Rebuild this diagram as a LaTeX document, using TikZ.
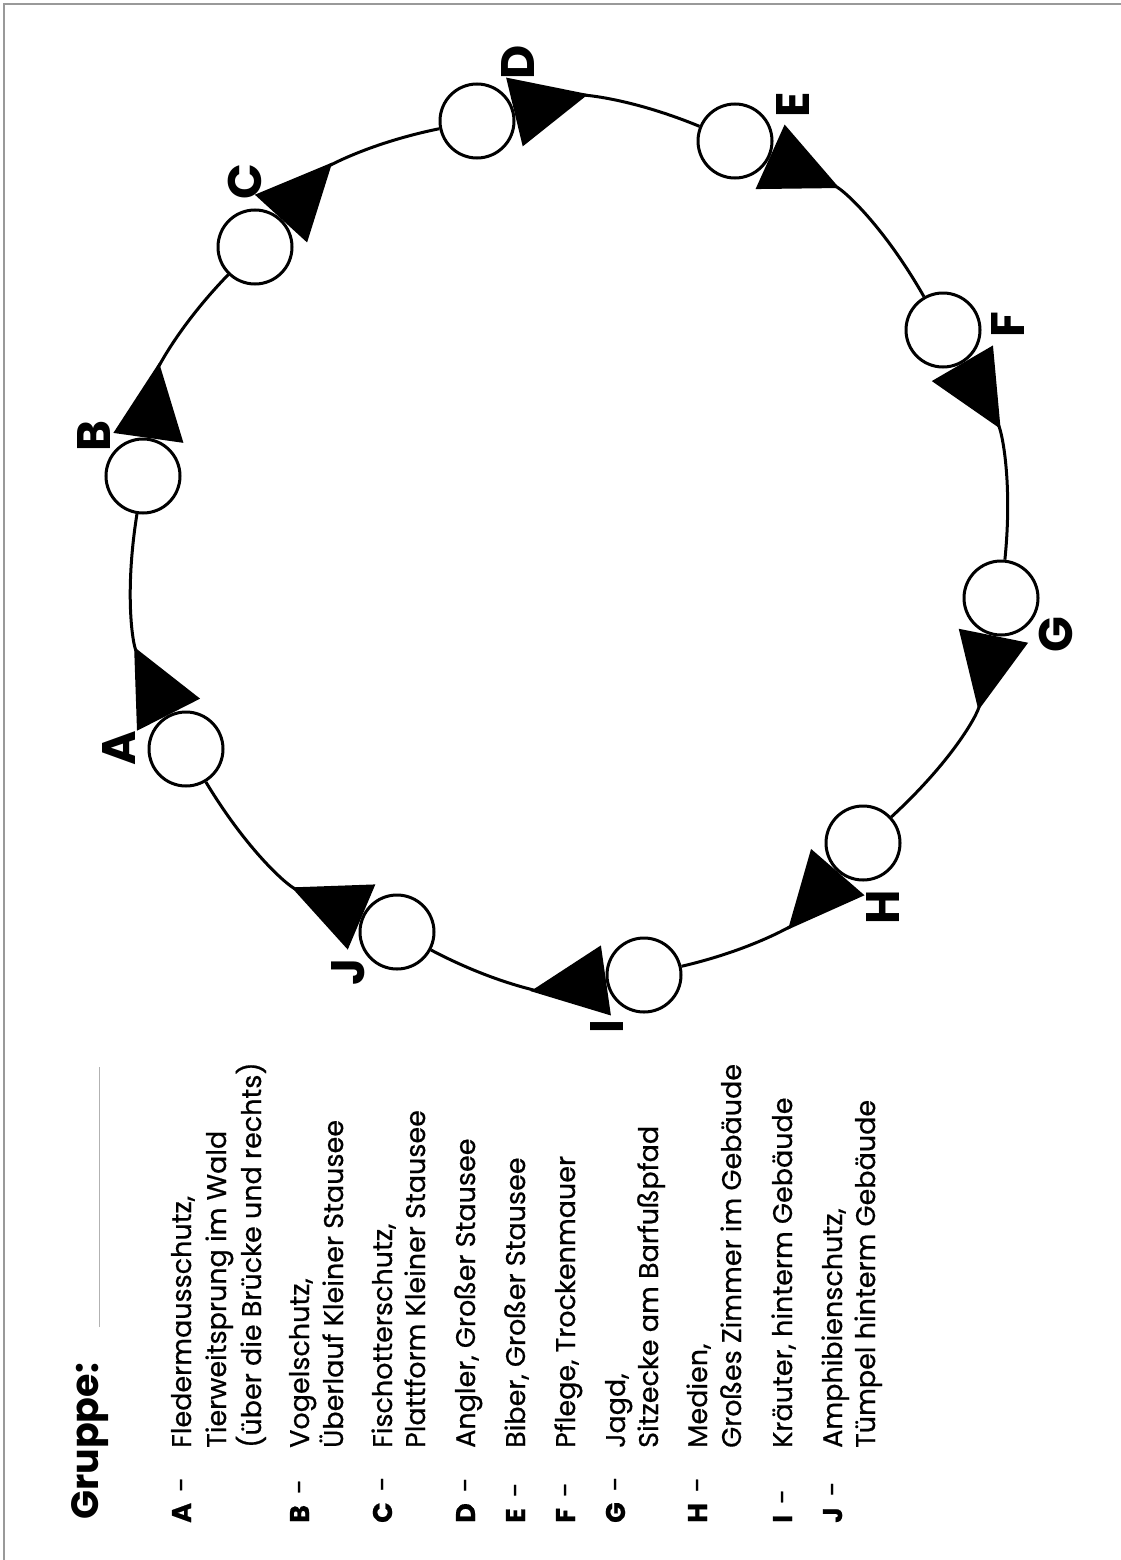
\documentclass[tikz,border=0pt]{standalone}
\usepackage{fontspec}
\setmainfont{Poppins}
\newfontfamily\keyfont{Poppins}[FakeBold=0.6]
\usetikzlibrary{arrows.meta,positioning}

\tikzset{
  station/.style={circle,draw,line width=3pt,fill=white,minimum size=74pt,inner sep=0pt},
  tag/.style={rotate=90,inner sep=0pt,font=\bfseries\fontsize{47}{47}\selectfont},
  flow/.style={line width=3pt,{Triangle[reversed,length=76pt,width=70pt]}-,bend left=18},
  legend/.style={rotate=90,anchor=base west,inner sep=0pt,font=\keyfont\fontsize{27}{34}\selectfont},
}

\begin{document}
\begin{tikzpicture}[x=1pt,y=1pt]
\useasboundingbox (0,0) rectangle (1121,-1560);
% page edge
\draw[gray!80,line width=1.5pt] (4,-1560) -- (4,-4) -- (1121,-4);

% stations round the circle
\node[station] (A) at (186,-749) {};
\node[station] (B) at (143,-476) {};
\node[station] (C) at (255,-247) {};
\node[station] (D) at (477,-121) {};
\node[station] (E) at (735,-141) {};
\node[station] (F) at (943,-330) {};
\node[station] (G) at (1001,-598) {};
\node[station] (H) at (863,-843) {};
\node[station] (I) at (644,-975) {};
\node[station] (J) at (397,-932) {};
\foreach \s/\t in {A/B,B/C,C/D,D/E,E/F,F/G,G/H,H/I,I/J,J/A} {\draw[flow] (\s) to (\t);}

\node[tag] (tA) at (119,-748) {A};
\node[tag] (tB) at (94,-436) {B};
\node[tag] (tC) at (245,-182) {C};
\node[tag] (tD) at (518,-62) {D};
\node[tag] (tE) at (793,-105) {E};
\node[tag] (tF) at (1008,-325) {F};
\node[tag] (tG) at (1056,-635) {G};
\node[tag] (tH) at (883,-907) {H};
\node[tag] (tI) at (607,-1027) {I};
\node[tag] (tJ) at (348,-972) {J};

% legend
\node[legend,font=\bfseries\fontsize{38}{38}\selectfont] (grp) at (98,-1520) {Gruppe:};
\coordinate (gl1) at (99,-1327);
\coordinate (gl2) at (99,-1067);
\draw[gray!60,line width=1pt] (gl1) -- (gl2);
\foreach \k/\bx in {A/191,B/309,C/392,D/475,E/525,F/575,G/625,H/707,I/792,J/842} {\node[legend] (key\k) at (\bx,-1523) {\textbf{\k}\hspace{11pt}-};}
\foreach \n/\bx/\txt in {a1/191/{Fledermausschutz,},a2/226/{Tierweitsprung im Wald},a3/261/{(über die Brücke und rechts)},
  b1/309/{Vogelschutz,},b2/343/{Überlauf Kleiner Stausee},c1/392/{Fischotterschutz,},c2/425/{Plattform Kleiner Stausee},
  d1/475/{Angler, Großer Stausee},e1/525/{Biber, Großer Stausee},f1/575/{Pflege, Trockenmauer},
  g1/625/{Jagd,},g2/658/{Sitzecke am Barfußpfad},h1/707/{Medien,},h2/741/{Großes Zimmer im Gebäude},
  i1/792/{Kräuter, hinterm Gebäude},j1/842/{Amphibienschutz,},j2/875/{Tümpel hinterm Gebäude}}
  {\node[legend] (\n) at (\bx,-1448) {\txt};}
\end{tikzpicture}
\end{document}
